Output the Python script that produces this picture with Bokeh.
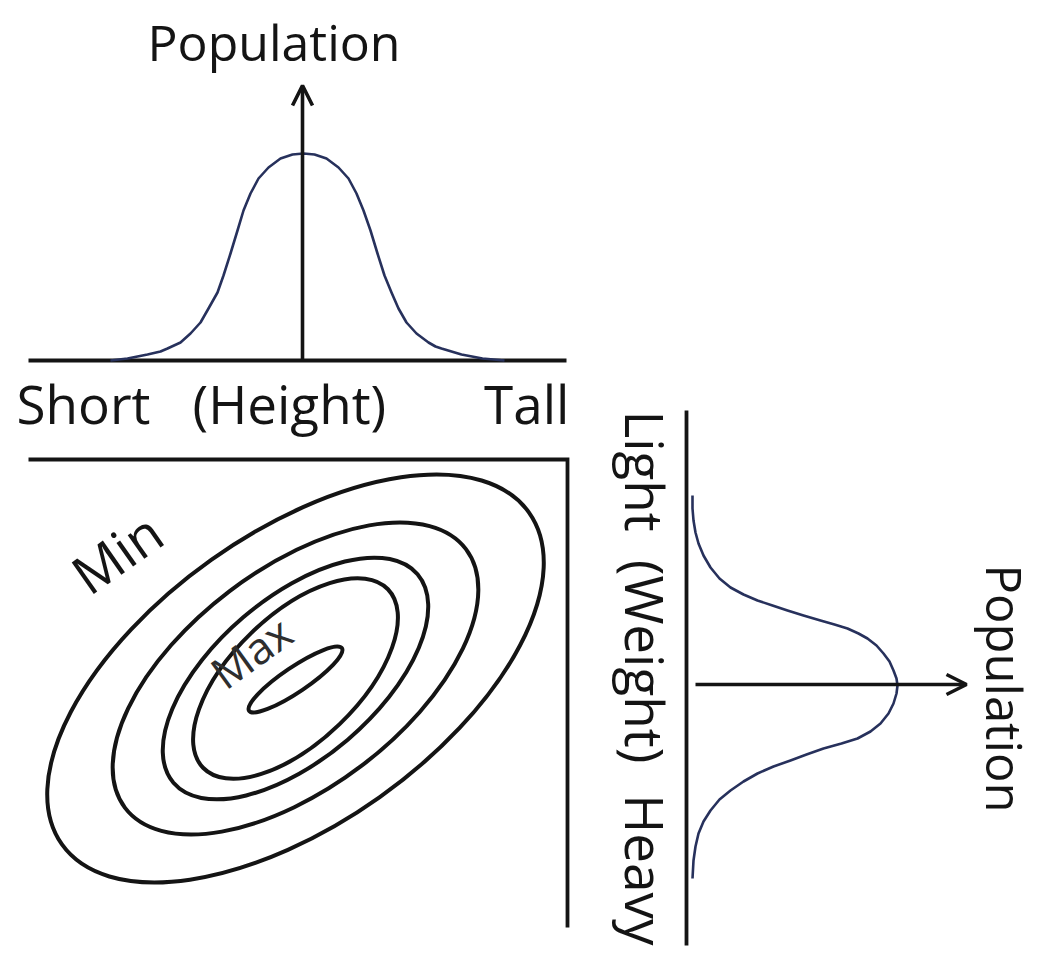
import numpy as np
from bokeh.plotting import figure
from bokeh.models import Range1d, Arrow, OpenHead
from bokeh.core.properties import value
from bokeh.embed import file_html
from bokeh.resources import INLINE

# ---------------- data (pixel coordinates, y downward) -------------
IMG_H = 961

# Height distribution (top panel), curve points
height_curve_x = [110, 127, 147, 160, 167, 180, 190, 200, 208, 217, 223, 230, 237, 243, 250, 258, 268, 280, 292, 303,
                  314, 326, 338, 348, 356, 363, 370, 377, 384, 391, 398, 406, 416, 428, 435, 441, 461, 482, 504]
height_curve_y = [360, 358, 354, 351, 348, 342, 333, 322, 308, 292, 275, 253, 230, 210, 193, 178, 167, 158, 154, 153,
                  154, 158, 167, 178, 193, 210, 230, 253, 275, 292, 308, 322, 333, 342, 346, 348, 354, 358, 360]

# Weight distribution (right panel), curve points
weight_curve_x = [692, 692, 693, 695, 698, 703, 710, 719, 730, 743, 757, 772, 787, 803, 820, 834, 847, 858, 867,
                  876, 883, 889, 893, 896, 897,
                  896, 893, 888, 880, 870, 857, 841, 823, 806, 790, 773, 757, 743, 730, 719, 710, 703, 698,
                  695, 693, 692]
weight_curve_y = [495, 508, 520, 532, 543, 555, 567, 578, 587, 594, 600, 605, 610, 615, 620, 624, 628, 633, 638,
                  645, 653, 661, 670, 678, 685,
                  693, 703, 713, 723, 731, 738, 743, 748, 754, 760, 766, 773, 781, 790, 799, 810, 821, 833,
                  846, 860, 878]

# Contour ellipses (joint distribution)
ell_cx = [295, 295, 295, 295, 295]
ell_cy = [678, 678, 678, 678, 679]
ell_w = [573, 428, 321, 257, 112]
ell_h = [291, 219, 161, 127, 25]
ell_angle = [35.4, 37.2, 40.5, 44.0, 34.0]

# Axis lines
axis_lines = {
    "height_axis": ([28, 566], [360, 360]),
    "box_axes": ([28, 567, 567], [459, 459, 927]),
    "weight_axis": ([686, 686], [410, 945]),
}

# Arrows: start -> end
arrow_start_x = [302, 695]
arrow_start_y = [360, 684]
arrow_end_x = [302, 966]
arrow_end_y = [85, 684]

# Labels (anchor = start of the alphabetic baseline unless aligned otherwise)
h_labels = ["Short", "(Height)", "Tall"]
h_label_x = [16, 192, 569]
h_label_align = ["left", "left", "right"]
h_label_y = 425

w_labels = ["Light", "(Weight)", "Heavy"]
w_label_y = [410, 661, 945]
w_label_align = ["left", "center", "right"]
w_label_x = 623

pop_labels = ["Population", "Population"]

# ---------------- figure -------------
W, H = 1040, 960
p = figure(width=W, height=H, output_backend="svg", toolbar_location=None,
           x_range=Range1d(0, W), y_range=Range1d(IMG_H - H, IMG_H),
           min_border=0, background_fill_color="white", border_fill_color="white")
p.axis.visible = False
p.grid.visible = False
p.outline_line_color = None


def fy(v):
    return list(IMG_H - np.asarray(v, dtype=float))


INK = "#141414"
CURVE = "#27315c"
FONT = value("Open Sans")
SHIFT = 0.42  # baseline correction, in em


def label(x, y, text, size, angle_deg=0.0, align="left", color=INK):
    # move the anchor "up" in the text's own frame by SHIFT em
    a = np.deg2rad(angle_deg)
    d = SHIFT * size
    ax = x - d * np.sin(a)
    ay = y - d * np.cos(a)
    p.text(x=[ax], y=fy([ay]), text=[text], text_font=FONT, text_font_size=f"{size}px",
           text_color=color, text_align=align, text_baseline="alphabetic",
           angle=a)


# axis lines
for key, (xs, ys) in axis_lines.items():
    p.line(xs, fy(ys), line_color=INK, line_width=3.8, line_cap="butt", line_join="miter")

# arrows
for xs, ys, xe, ye in zip(arrow_start_x, arrow_start_y, arrow_end_x, arrow_end_y):
    p.add_layout(Arrow(end=OpenHead(size=20, line_width=3.6, line_color=INK),
                       x_start=xs, y_start=IMG_H - ys, x_end=xe, y_end=IMG_H - ye,
                       line_color=INK, line_width=3.6))

# distributions
p.line(height_curve_x, fy(height_curve_y), line_color=CURVE, line_width=2.6, line_join="round")
p.line(weight_curve_x, fy(weight_curve_y), line_color=CURVE, line_width=2.6, line_join="round")

# ellipses
p.ellipse(x=ell_cx, y=fy(ell_cy), width=ell_w, height=ell_h, angle=ell_angle, angle_units="deg",
          fill_color=None, line_color=INK, line_width=4)

# texts
label(147, 62, pop_labels[0], 50)
for t, x, a in zip(h_labels, h_label_x, h_label_align):
    label(x, h_label_y, t, 53, align=a)
for t, y, a in zip(w_labels, w_label_y, w_label_align):
    label(w_label_x, y, t, 53, angle_deg=-90, align=a)
label(984, 688, pop_labels[1], 49, angle_deg=-90, align="center")
label(90, 598, "Min", 54, angle_deg=35)
label(226, 692, "Max", 44, angle_deg=36, color="#2e2e2e")

open("out.html", "w").write(file_html(p, INLINE))
